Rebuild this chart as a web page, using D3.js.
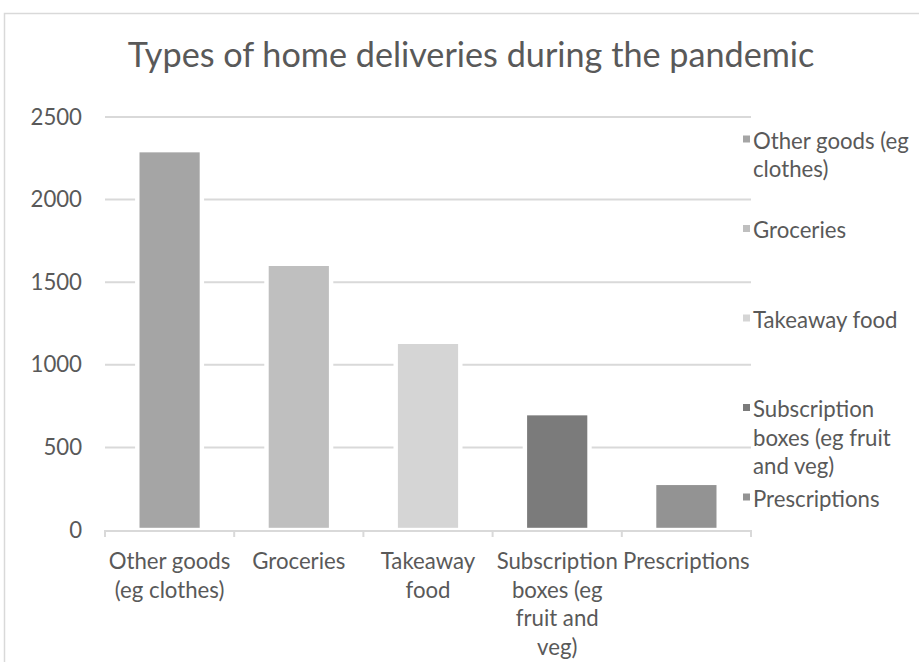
<!DOCTYPE html>
<html>
<head>
<meta charset="utf-8">
<script src="https://cdn.jsdelivr.net/npm/d3@7"></script>
<style>
  body { margin: 0; background: #fff; }
  svg { display: block; }
  text { font-family: Lato, "Open Sans", sans-serif; fill: #595959; }
</style>
</head>
<body>
<svg id="chart" width="919" height="662"></svg>
<script>
// Chart content
const chartTitle = "Types of home deliveries during the pandemic";
const categories = [
  "Other goods (eg clothes)",
  "Groceries",
  "Takeaway food",
  "Subscription boxes (eg fruit and veg)",
  "Prescriptions"
];
const deliveries = [2286, 1598, 1126, 694, 272];
const barColors = ["#a5a5a5", "#bfbfbf", "#d5d5d5", "#7b7b7b", "#939393"];
const yTickValues = [0, 500, 1000, 1500, 2000, 2500];

// Layout
const width = 919, height = 662;
const plot = { left: 105, right: 751, top: 117, bottom: 530 };
const labelSize = 22.2, titleSize = 34.2, lineHeight = 28.6;
const gridColor = "#d9d9d9";

const svg = d3.select("#chart");

// Chart frame (runs past the visible area on the right and bottom)
svg.append("rect")
  .attr("x", 4.5).attr("y", 13.5)
  .attr("width", 1000).attr("height", 1000)
  .attr("fill", "#fff").attr("stroke", gridColor).attr("stroke-width", 1.5);

const x = d3.scaleBand().domain(categories).range([plot.left, plot.right]).padding(0);
const y = d3.scaleLinear().domain([0, d3.max(yTickValues)]).range([plot.bottom, plot.top]);
const barWidth = x.bandwidth() * 0.5;
const barGap = 4.4; // white outline around each column

// Title
svg.append("text")
  .attr("x", 471).attr("y", 66.7)
  .attr("text-anchor", "middle")
  .style("font-size", titleSize + "px")
  .text(chartTitle);

// Horizontal gridlines
svg.append("g")
  .selectAll("line")
  .data(yTickValues.filter(v => v > 0))
  .join("line")
  .attr("x1", plot.left).attr("x2", plot.right)
  .attr("y1", d => y(d)).attr("y2", d => y(d))
  .attr("stroke", gridColor).attr("stroke-width", 2);

// Y axis labels
const yAxis = d3.axisLeft(y).tickValues(yTickValues).tickFormat(d3.format("d")).tickSize(0).tickPadding(0);
const yg = svg.append("g").attr("transform", `translate(${plot.left - 23},0)`).call(yAxis);
yg.select(".domain").remove();
yg.selectAll("text")
  .style("font-size", labelSize + "px")
  .style("font-family", null)
  .attr("fill", null);

// Columns
svg.append("g")
  .selectAll("rect")
  .data(categories)
  .join("rect")
  .attr("x", d => x(d) + (x.bandwidth() - barWidth) / 2)
  .attr("y", (d, i) => y(deliveries[i]) - barGap / 2)
  .attr("width", barWidth)
  .attr("height", (d, i) => y(0) - y(deliveries[i]) + barGap / 2)
  .attr("fill", (d, i) => barColors[i])
  .attr("stroke", "#fff")
  .attr("stroke-width", barGap);

// Category axis with boundary ticks
const xAxisG = svg.append("g");
xAxisG.append("line")
  .attr("x1", plot.left).attr("x2", plot.right)
  .attr("y1", y(0) + 1).attr("y2", y(0) + 1)
  .attr("stroke", gridColor).attr("stroke-width", 2);
const boundaries = categories.map(c => x(c)).concat([plot.right]);
xAxisG.selectAll("line.tick")
  .data(boundaries)
  .join("line")
  .attr("class", "tick")
  .attr("x1", d => d).attr("x2", d => d)
  .attr("y1", y(0)).attr("y2", y(0) + 7)
  .attr("stroke", gridColor).attr("stroke-width", 2);

// Word wrap helper based on rendered text width
function wrapWords(label, maxWidth, size) {
  const probe = svg.append("text").style("font-size", size + "px");
  const words = label.split(" ");
  const lines = [];
  let current = "";
  words.forEach(w => {
    const trial = current ? current + " " + w : w;
    probe.text(trial);
    if (current && probe.node().getComputedTextLength() > maxWidth) {
      lines.push(current);
      current = w;
    } else {
      current = trial;
    }
  });
  if (current) lines.push(current);
  probe.remove();
  return lines;
}

// Category labels
svg.append("g")
  .selectAll("text")
  .data(categories)
  .join("text")
  .attr("text-anchor", "middle")
  .style("font-size", labelSize + "px")
  .each(function (d) {
    const lines = wrapWords(d, 124, labelSize);
    const cx = x(d) + x.bandwidth() / 2;
    d3.select(this).selectAll("tspan")
      .data(lines)
      .join("tspan")
      .attr("x", cx)
      .attr("y", (l, i) => 569 + i * lineHeight)
      .text(l => l);
  });

// Legend
const legend = svg.append("g");
const legendStart = 148.5, legendStep = 89.5, legendX = 753;
let nextBaseline = legendStart;
categories.forEach((c, i) => {
  const lines = wrapWords(c, 160, labelSize);
  const base = Math.max(legendStart + i * legendStep, nextBaseline);
  legend.append("rect")
    .attr("x", legendX - 10).attr("y", base - 13)
    .attr("width", 7).attr("height", 7)
    .attr("fill", barColors[i]);
  const t = legend.append("text").style("font-size", labelSize + "px");
  t.selectAll("tspan")
    .data(lines)
    .join("tspan")
    .attr("x", legendX)
    .attr("y", (l, k) => base + k * lineHeight)
    .text(l => l);
  nextBaseline = base + lines.length * lineHeight;
});
</script>
</body>
</html>
